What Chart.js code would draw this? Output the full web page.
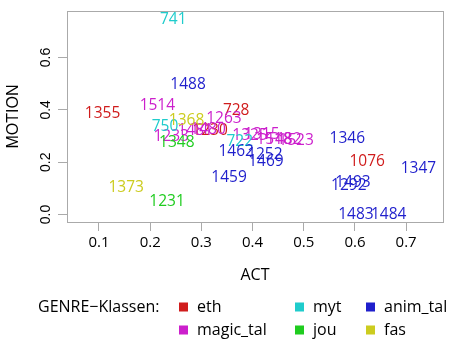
<!DOCTYPE html>
<html>
<head>
<meta charset="utf-8">
<script src="https://cdn.jsdelivr.net/npm/chart.js@4.4.1/dist/chart.umd.min.js"></script>
<style>
  html, body { margin: 0; padding: 0; background: #fff; }
</style>
</head>
<body>
<canvas id="myChart" width="451" height="341"></canvas>
<script>
var genres = ['eth', 'magic_tal', 'myt', 'jou', 'anim_tal', 'fas'];
var genreColors = ['#d01c1c', '#cc1fcc', '#1fcccc', '#1fcc1f', '#1f1fcc', '#cccc1f'];

// text id, ACT, MOTION per genre
var ethIds = ['1355', '728', '1076', '1230'];
var ethAct = [0.107, 0.368, 0.624, 0.317];
var ethMotion = [0.384, 0.396, 0.202, 0.319];

var magicIds = ['1514', '1263', '1233', '1481', '1480', '1325', '1315', '1518', '1482', '1523'];
var magicAct = [0.214, 0.344, 0.241, 0.288, 0.313, 0.395, 0.418, 0.442, 0.461, 0.485];
var magicMotion = [0.415, 0.368, 0.296, 0.319, 0.323, 0.300, 0.304, 0.285, 0.285, 0.281];

var mytIds = ['741', '750', '722'];
var mytAct = [0.245, 0.229, 0.375];
var mytMotion = [0.746, 0.338, 0.277];

var jouIds = ['1348', '1231'];
var jouAct = [0.252, 0.233];
var jouMotion = [0.275, 0.049];

var animIds = ['1488', '1459', '1462', '1252', '1469', '1346', '1347', '1292', '1493', '1483', '1484'];
var animAct = [0.274, 0.354, 0.368, 0.424, 0.426, 0.585, 0.724, 0.588, 0.596, 0.602, 0.666];
var animMotion = [0.495, 0.141, 0.239, 0.228, 0.202, 0.291, 0.177, 0.109, 0.121, 0.0, 0.0];

var fasIds = ['1368', '1373'];
var fasAct = [0.271, 0.153];
var fasMotion = [0.359, 0.102];

var xTicks = [0.1, 0.2, 0.3, 0.4, 0.5, 0.6, 0.7];
var xTickLabels = ['0.1', '0.2', '0.3', '0.4', '0.5', '0.6', '0.7'];
var yTicks = [0.0, 0.2, 0.4, 0.6];
var yTickLabels = ['0.0', '0.2', '0.4', '0.6'];

var groups = [
  [ethIds, ethAct, ethMotion],
  [magicIds, magicAct, magicMotion],
  [mytIds, mytAct, mytMotion],
  [jouIds, jouAct, jouMotion],
  [animIds, animAct, animMotion],
  [fasIds, fasAct, fasMotion]
];

var boxColor = '#aaaaaa';
var sansFont = "'Open Sans', sans-serif";
var axisFont = "'Liberation Sans', Arial, sans-serif";

var datasets = [];
for (var g = 0; g < groups.length; g++) {
  var pts = [];
  for (var i = 0; i < groups[g][0].length; i++) {
    pts.push({x: groups[g][1][i], y: groups[g][2][i]});
  }
  datasets.push({
    label: genres[g],
    data: pts,
    ids: groups[g][0],
    color: genreColors[g],
    pointRadius: 0,
    pointHoverRadius: 0,
    showLine: false
  });
}

// write the ids at the point positions, like text() in R
var textLabels = {
  id: 'textLabels',
  afterDatasetsDraw: function(chart) {
    var ctx = chart.ctx;
    ctx.save();
    ctx.font = '15.5px ' + sansFont;
    ctx.textAlign = 'center';
    ctx.textBaseline = 'middle';
    chart.data.datasets.forEach(function(ds, i) {
      var meta = chart.getDatasetMeta(i);
      ctx.fillStyle = ds.color;
      meta.data.forEach(function(pt, j) {
        ctx.fillText(ds.ids[j], pt.x, pt.y);
      });
    });
    ctx.restore();
  }
};

// box, rotated y tick labels, legend below
var frame = {
  id: 'frame',
  afterDraw: function(chart) {
    var ctx = chart.ctx;
    var a = chart.chartArea;
    ctx.save();
    ctx.strokeStyle = boxColor;
    ctx.lineWidth = 1;
    ctx.strokeRect(Math.round(a.left) + 0.5, Math.round(a.top) + 0.5,
      Math.round(a.right - a.left), Math.round(a.bottom - a.top));

    ctx.fillStyle = '#000';
    ctx.font = '14px ' + axisFont;
    ctx.textAlign = 'center';
    ctx.textBaseline = 'middle';
    for (var i = 0; i < yTicks.length; i++) {
      var py = chart.scales.y.getPixelForValue(yTicks[i]);
      ctx.save();
      ctx.translate(46, py);
      ctx.rotate(-Math.PI / 2);
      ctx.fillText(yTickLabels[i], 0, 0);
      ctx.restore();
    }

    ctx.font = '16px ' + sansFont;
    ctx.textAlign = 'left';
    ctx.fillText('GENRE\u2212Klassen:', 38, 307);
    var colX = [179, 179, 295, 295, 366, 366];
    var rowY = [307, 330, 307, 330, 307, 330];
    for (var k = 0; k < genres.length; k++) {
      ctx.fillStyle = genreColors[k];
      ctx.fillRect(colX[k], rowY[k] - 4.5, 9, 9);
      ctx.fillStyle = '#000';
      ctx.fillText(genres[k], colX[k] + 18, rowY[k]);
    }
    ctx.restore();
  }
};

var ctx = document.getElementById('myChart');
var myChart = new Chart(ctx, {
  type: 'scatter',
  data: {datasets: datasets},
  options: {
    responsive: false,
    animation: false,
    layout: {padding: {top: 11, right: 8, left: 0, bottom: 0}},
    plugins: {legend: {display: false}, tooltip: {enabled: false}},
    scales: {
      x: {
        type: 'linear',
        min: 0.0375,
        max: 0.772,
        afterBuildTicks: function(s) { s.ticks = xTicks.map(function(v) { return {value: v}; }); },
        afterFit: function(s) { s.height = 119; },
        grid: {drawOnChartArea: false, color: boxColor, tickLength: 9},
        border: {display: false},
        ticks: {
          color: '#000',
          font: {family: sansFont, size: 15},
          padding: 3,
          maxRotation: 0,
          callback: function(v, i) { return xTickLabels[i]; }
        },
        title: {display: true, text: 'ACT', color: '#000', font: {family: sansFont, size: 16}, padding: {top: 0, bottom: 56}}
      },
      y: {
        type: 'linear',
        min: -0.0287,
        max: 0.778,
        afterBuildTicks: function(s) { s.ticks = yTicks.map(function(v) { return {value: v}; }); },
        afterFit: function(s) { s.width = 67; },
        grid: {drawOnChartArea: false, color: boxColor, tickLength: 9},
        border: {display: false},
        ticks: {display: false},
        title: {display: true, text: 'MOTION', color: '#000', font: {family: axisFont, size: 16}, padding: {top: 4, bottom: 0}}
      }
    }
  },
  plugins: [textLabels, frame]
});
</script>
</body>
</html>
